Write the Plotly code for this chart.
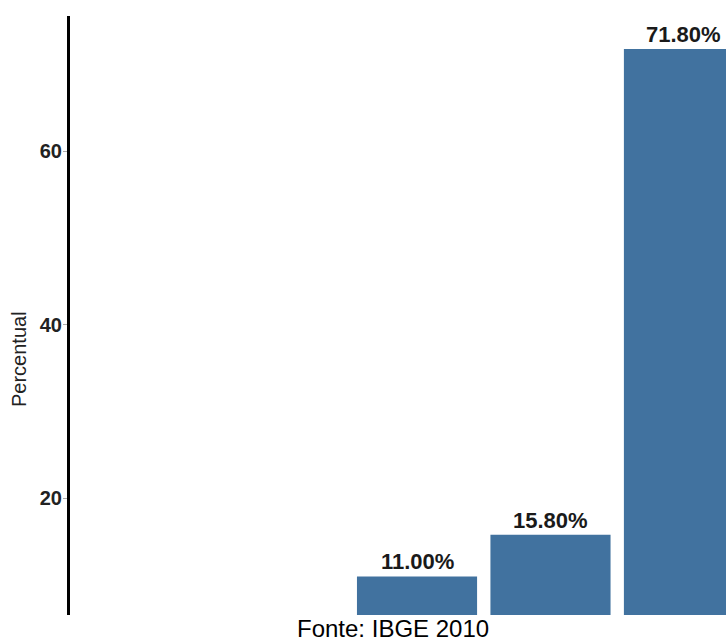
import plotly.graph_objects as go

# Data (only the three visible bars; x tick labels are not visible in the reference)
categories = ["Categoria 3", "Categoria 4", "Categoria 5"]
values = [11.00, 15.80, 71.80]
y_ticks = [20, 40, 60]
caption = "Fonte: IBGE 2010"
y_title = "Percentual"

BAR_COLOR = "#41729f"
FONT = "Liberation Sans, Arial, Helvetica, sans-serif"

fig = go.Figure()
fig.add_trace(go.Bar(
    x=categories,
    y=values,
    marker=dict(color=BAR_COLOR, line=dict(width=0)),
    width=0.9,
    hoverinfo="x+y",
))

# Value labels above bars
for c, v in zip(categories, values):
    fig.add_annotation(
        x=c, y=v, xref="x", yref="y",
        text=f"<b>{v:.2f}%</b>",
        showarrow=False, yanchor="bottom", xanchor="center",
        font=dict(family=FONT, size=22, color="#1a1a1a"),
        yshift=0,
    )

# Y title (positioned as in reference)
fig.add_annotation(
    xref="paper", yref="paper",
    x=(19 - 70) / 656, y=(615 - 359) / 599,
    text=y_title, textangle=-90, showarrow=False,
    xanchor="center", yanchor="middle",
    font=dict(family=FONT, size=20, color="#222222"),
)

# Caption
fig.add_annotation(
    xref="paper", yref="paper",
    x=(393 - 70) / 656, y=(615 - 628) / 599,
    text=caption, showarrow=False,
    xanchor="center", yanchor="middle",
    font=dict(family=FONT, size=24, color="#000000"),
)

fig.update_layout(
    width=726, height=642,
    margin=dict(l=70, r=0, t=16, b=27, pad=0),
    paper_bgcolor="white", plot_bgcolor="white",
    showlegend=False,
    bargap=0.1,
    font=dict(family=FONT),
)
fig.update_xaxes(
    range=[-2.6, 2.315],
    showticklabels=False, ticks="", showgrid=False, zeroline=False,
    showline=False,
)
fig.update_yaxes(
    range=[6.55, 75.6],
    tickvals=y_ticks, ticktext=[str(t) for t in y_ticks],
    ticks="outside", ticklen=4, tickwidth=1, tickcolor="#aaaaaa",
    tickfont=dict(family=FONT, size=20, color="#222222", weight="bold"),
    showgrid=False, zeroline=False,
    showline=True, linecolor="black", linewidth=3,
    ticklabelstandoff=-3,
)

fig.write_html("out.html")
